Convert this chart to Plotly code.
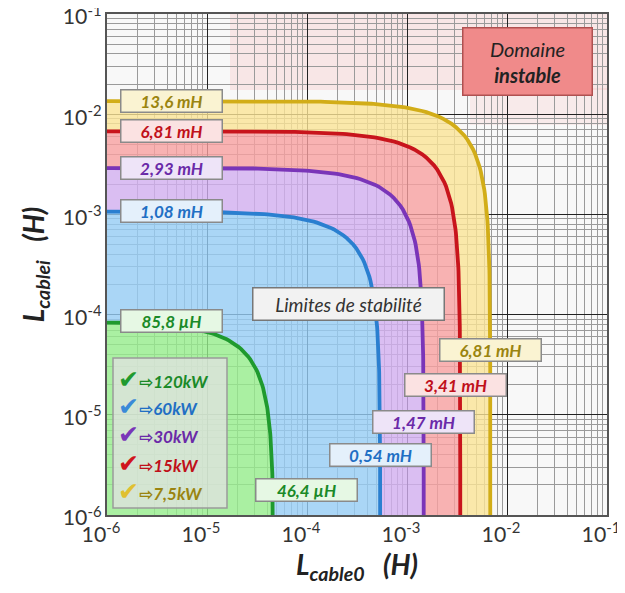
import numpy as np
import plotly.graph_objects as go

# Data (values in henry)
powers = ["120kW", "60kW", "30kW", "15kW", "7,5kW"]
Li_max = [85.8e-6, 1.08e-3, 2.93e-3, 6.81e-3, 13.6e-3]   # L_cable_i asymptotes
L0_max = [46.4e-6, 0.54e-3, 1.47e-3, 3.41e-3, 6.81e-3]   # L_cable_0 asymptotes
Li_labels = ["85,8 µH", "1,08 mH", "2,93 mH", "6,81 mH", "13,6 mH"]
L0_labels = ["46,4 µH", "0,54 mH", "1,47 mH", "3,41 mH", "6,81 mH"]
axis_range_log = [-6, -1]
exponents = [-6, -5, -4, -3, -2, -1]

line_colors = ["#1f9a2e", "#2a7fd0", "#7a35b8", "#c8141c", "#d2ad18"]
fill_colors = ["rgba(150,238,140,0.80)", "rgba(150,205,245,0.80)", "rgba(210,175,240,0.80)",
               "rgba(248,160,160,0.80)", "rgba(250,228,150,0.80)"]
text_colors = ["#1a8a28", "#1f6fc4", "#6a2aa8", "#c0101a", "#9a8410"]
box_colors = ["#e6f8e4", "#e4f0fb", "#eee4f8", "#fbe2e2", "#faf3d2"]
check_colors = ["#1f9a2e", "#3a8ad8", "#7a35b8", "#d0141c", "#e0c030"]

# page offset of the figure (default body margin) and target plot area in page pixels
OFF = 8
W, H = 625 - OFF, 593 - OFF
PL, PR, PT, PB = 107, 607, 14, 515


def px(x):
    return (x - PL) / (PR - PL)


def py(y):
    return (PB - y) / (PB - PT)


def boundary(A, B):
    # stability limit: Li/A + L0/B = 1
    x1 = np.logspace(-7.5, np.log10(B * 0.5), 120)
    y1 = A * (1 - x1 / B)
    y2 = np.logspace(np.log10(A * 0.5), -7.5, 120)[1:]
    x2 = B * (1 - y2 / A)
    return np.concatenate([x1, x2]), np.concatenate([y1, y2])


fig = go.Figure()

curves = [boundary(a, b) for a, b in zip(Li_max, L0_max)]
for k in range(len(curves)):
    xo, yo = curves[k]
    if k == 0:
        xs = np.concatenate([xo, [1e-8, 1e-8]])
        ys = np.concatenate([yo, [1e-8, yo[0]]])
    else:
        xi, yi = curves[k - 1]
        xs = np.concatenate([xo, xi[::-1]])
        ys = np.concatenate([yo, yi[::-1]])
    fig.add_trace(go.Scatter(x=xs, y=ys, fill="toself", fillcolor=fill_colors[k],
                             mode="none", hoverinfo="skip", showlegend=False))

for k in range(len(curves)):
    xo, yo = curves[k]
    fig.add_trace(go.Scatter(x=xo, y=yo, mode="lines",
                             line=dict(color=line_colors[k], width=3.8),
                             name=powers[k], showlegend=False))

annotations = []
lab_font = dict(family="Lato, Open Sans, sans-serif", size=17)
for k in range(5):
    annotations.append(dict(
        x=px(171), y=np.log10(Li_max[k]), xref="paper", yref="y",
        xanchor="center", yanchor="middle",
        text=f"<b><i>{Li_labels[k]}</i></b>", showarrow=False,
        font=dict(lab_font, color=text_colors[k]), bgcolor=box_colors[k],
        bordercolor="#8a8a8a", borderwidth=1.5, borderpad=1, width=98, height=19))
r_pos = [(px(306), py(490)), (np.log10(L0_max[1]), py(455)), (np.log10(L0_max[2]), py(422)),
         (px(455), py(385)), (np.log10(L0_max[4]), py(350))]
r_xref = ["paper", "x", "x", "paper", "x"]
for k in range(5):
    annotations.append(dict(
        x=r_pos[k][0], y=r_pos[k][1], xref=r_xref[k], yref="paper",
        xanchor="center", yanchor="middle",
        text=f"<b><i>{L0_labels[k]}</i></b>", showarrow=False,
        font=dict(lab_font, color=text_colors[k]), bgcolor=box_colors[k],
        bordercolor="#8a8a8a", borderwidth=1.5, borderpad=1, width=98, height=19))

annotations.append(dict(
    x=px(348), y=py(304), xref="paper", yref="paper", xanchor="center", yanchor="middle",
    text="<i>Limites de stabilité</i>",
    showarrow=False, font=dict(family="Lato, Open Sans, sans-serif", size=19, color="#333"),
    bgcolor="#f2f2f2", bordercolor="#777", borderwidth=1.5, borderpad=4, width=182))
annotations.append(dict(
    x=px(527), y=py(62), xref="paper", yref="paper", xanchor="center", yanchor="middle",
    text="<i>Domaine</i><br><b><i>instable</i></b>",
    showarrow=False, font=dict(family="Lato, Open Sans, sans-serif", size=20, color="#222"),
    bgcolor="#f08a8a", bordercolor="#b05050", borderwidth=1.5, borderpad=8, width=112))

leg_y = [378, 405, 433, 462, 490]
for k in range(5):
    annotations.append(dict(
        x=px(116), y=py(leg_y[k]), xref="paper", yref="paper",
        xanchor="left", yanchor="middle",
        text=(f"<span style='color:{check_colors[k]};font-size:25px'>✔</span>"
              f"<b><i>⇨{powers[k]}</i></b>"),
        showarrow=False, font=dict(family="Lato, DejaVu Sans, sans-serif", size=17,
                                   color=text_colors[k])))

shapes = [
    dict(type="rect", xref="paper", yref="paper", x0=px(230), x1=1, y0=py(90), y1=1,
         fillcolor="rgba(250,170,170,0.22)", line=dict(width=0), layer="below"),
    dict(type="rect", xref="paper", yref="paper", x0=px(470), x1=1, y0=py(125), y1=py(88),
         fillcolor="rgba(250,170,170,0.18)", line=dict(width=0), layer="below"),
    dict(type="rect", xref="paper", yref="paper", x0=px(113), x1=px(227),
         y0=py(508), y1=py(358), fillcolor="rgba(225,225,225,0.75)",
         line=dict(color="#9a9a9a", width=1.5), layer="above"),
]

# plain hyphen in exponents (narrower than the default U+2212 minus)
alias = {f"10<sup>\u2212{-e}</sup>": f"10<sup>-{-e}</sup>" for e in exponents}

axis_common = dict(
    type="log", dtick=1, exponentformat="power", showexponent="all", ticks="",
    showgrid=True, gridcolor="#222", gridwidth=1, labelalias=alias,
    minor=dict(showgrid=True, dtick="D1", gridcolor="#9a9a9a", gridwidth=1, ticks=""),
    showline=True, linecolor="#555", linewidth=2, mirror=True,
    tickfont=dict(family="Lato, Open Sans, sans-serif", size=17, color="#333"),
    zeroline=False, automargin=False, ticklabeloverflow="allow",
)

NB = "\u00a0"
fig.update_layout(
    width=W, height=H,
    margin=dict(l=PL - OFF, r=W - (PR - OFF), t=PT - OFF, b=H - (PB - OFF)),
    paper_bgcolor="white", plot_bgcolor="#f8f8f8",
    xaxis=dict(axis_common, range=axis_range_log, ticklabelshift=-6,
               title=dict(text=f"<b><i>L<sub>cable0</sub>{NB*3}(H)</i></b>", standoff=6,
                          font=dict(family="Lato, Open Sans, sans-serif", size=28, color="#222"))),
    yaxis=dict(axis_common, range=axis_range_log, ticklabelshift=3,
               title=dict(text=f"<b><i>L<sub>cablei</sub>{NB*3}(H)</i></b>", standoff=10,
                          font=dict(family="Lato, Open Sans, sans-serif", size=28, color="#222"))),
    annotations=annotations, shapes=shapes, showlegend=False,
)

fig.write_html("out.html")
